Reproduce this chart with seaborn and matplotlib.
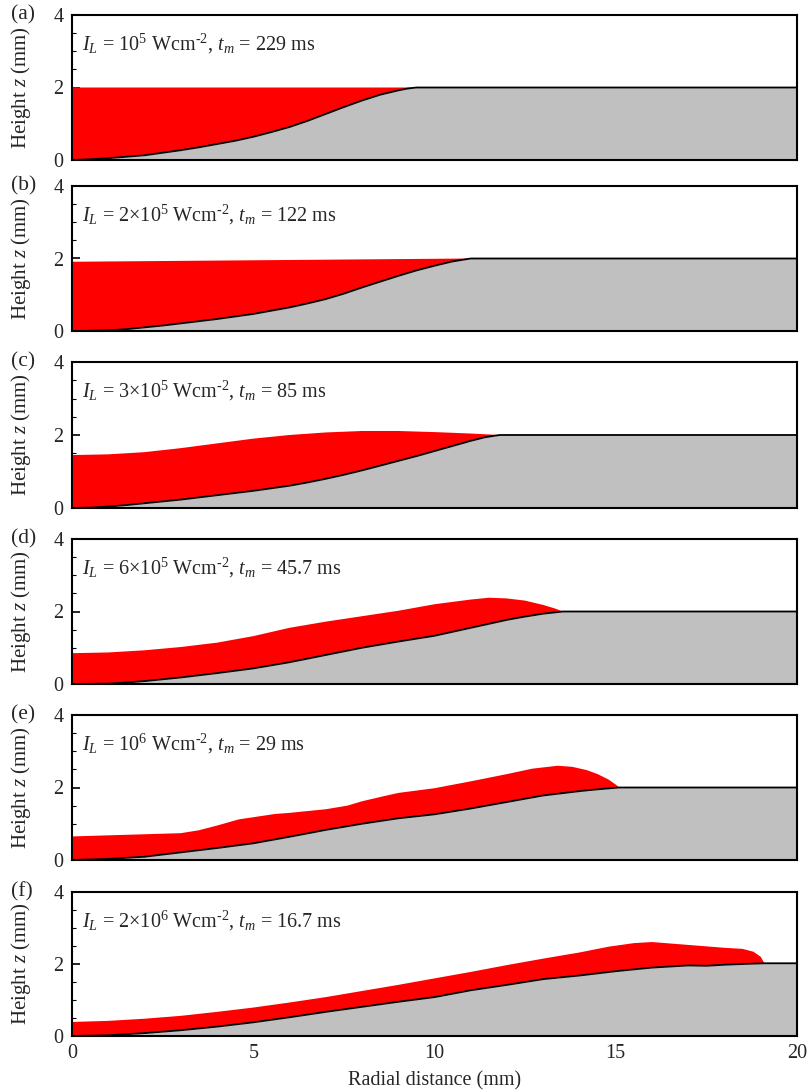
import numpy as np
import matplotlib
matplotlib.use("Agg")
import matplotlib.pyplot as plt
import seaborn as sns
from matplotlib.ticker import MultipleLocator

sns.set_theme(style="ticks")
plt.rcParams['font.family'] = ['Liberation Serif', 'DejaVu Serif']
plt.rcParams['mathtext.fontset'] = 'custom'
plt.rcParams['mathtext.rm'] = 'Liberation Serif'
plt.rcParams['mathtext.it'] = 'Liberation Serif:italic'
plt.rcParams['mathtext.bf'] = 'Liberation Serif:bold'

# ---------------- data ----------------
panel_labels = ["(a)", "(b)", "(c)", "(d)", "(e)", "(f)"]
annotations = [
    r"$I_L$ = 10$^5$ Wcm$^{\text{-}2}$, $t_m$ = 229 ms",
    r"$I_L$ = 2×10$^5$ Wcm$^{\text{-}2}$, $t_m$ = 122 ms",
    r"$I_L$ = 3×10$^5$ Wcm$^{\text{-}2}$, $t_m$ = 85 ms",
    r"$I_L$ = 6×10$^5$ Wcm$^{\text{-}2}$, $t_m$ = 45.7 ms",
    r"$I_L$ = 10$^6$ Wcm$^{\text{-}2}$, $t_m$ = 29 ms",
    r"$I_L$ = 2×10$^6$ Wcm$^{\text{-}2}$, $t_m$ = 16.7 ms",
]

# substrate (solid) profiles
sub_a_x = [0, 0.5, 1, 1.5, 2, 2.5, 3, 3.5, 4, 4.5, 5, 5.5, 6, 6.5, 7, 7.5, 8, 8.5, 9, 9.25, 9.5, 20]
sub_a_y = [0, 0.02, 0.05, 0.09, 0.13, 0.20, 0.27, 0.35, 0.44, 0.53, 0.64, 0.77, 0.91, 1.08, 1.27, 1.46, 1.64, 1.80, 1.92, 1.97, 2.0, 2.0]
sub_b_x = [0, 0.5, 1, 1.5, 2, 2.5, 3, 3.5, 4, 4.5, 5, 5.5, 6, 6.5, 7, 7.5, 8, 8.5, 9, 9.5, 10, 10.5, 11, 20]
sub_b_y = [0, 0.005, 0.02, 0.05, 0.10, 0.15, 0.21, 0.27, 0.33, 0.40, 0.47, 0.56, 0.65, 0.76, 0.88, 1.03, 1.20, 1.36, 1.52, 1.67, 1.80, 1.92, 2.0, 2.0]
sub_c_x = [0, 0.5, 1, 1.5, 2, 2.5, 3, 3.5, 4, 4.5, 5, 5.5, 6, 6.5, 7, 7.5, 8, 8.5, 9, 9.5, 10, 10.5, 11, 11.4, 11.8, 20]
sub_c_y = [0, 0.01, 0.04, 0.08, 0.13, 0.18, 0.23, 0.29, 0.35, 0.41, 0.47, 0.54, 0.61, 0.70, 0.80, 0.91, 1.03, 1.16, 1.29, 1.42, 1.56, 1.70, 1.84, 1.94, 2.0, 2.0]
sub_d_x = [0, 1, 1.5, 2, 3, 4, 5, 6, 7, 8, 9, 10, 11, 12, 12.5, 13, 13.55, 20]
sub_d_y = [0, 0.01, 0.04, 0.08, 0.18, 0.30, 0.43, 0.60, 0.80, 1.00, 1.17, 1.33, 1.55, 1.77, 1.86, 1.94, 2.0, 2.0]
sub_e_x = [0, 1, 2, 3, 4, 5, 6, 7, 8, 9, 10, 11, 12, 13, 14, 14.5, 15.1, 20]
sub_e_y = [0, 0.03, 0.09, 0.21, 0.33, 0.46, 0.64, 0.83, 1.00, 1.15, 1.26, 1.42, 1.60, 1.78, 1.90, 1.95, 2.0, 2.0]
sub_f_x = [0, 1, 2, 3, 4, 5, 6, 7, 8, 9, 10, 11, 12, 13, 14, 15, 16, 16.5, 17, 17.5, 18, 18.5, 19.1, 20]
sub_f_y = [0, 0.02, 0.08, 0.16, 0.26, 0.38, 0.52, 0.67, 0.81, 0.95, 1.08, 1.27, 1.42, 1.58, 1.68, 1.80, 1.90, 1.93, 1.96, 1.95, 1.98, 2.0, 2.02, 2.02]

# melt (liquid) top surfaces
top_a_x = [0, 9.5]
top_a_y = [2.0, 2.0]
top_b_x = [0, 11]
top_b_y = [1.91, 2.0]
top_c_x = [0, 1, 2, 3, 4, 5, 6, 7, 8, 9, 10, 11, 11.8]
top_c_y = [1.45, 1.47, 1.53, 1.64, 1.77, 1.90, 2.00, 2.07, 2.11, 2.11, 2.08, 2.04, 2.0]
top_d_x = [0, 1, 2, 3, 4, 5, 6, 7, 8, 9, 10, 11, 11.5, 12, 12.5, 13, 13.3, 13.55]
top_d_y = [0.85, 0.87, 0.93, 1.02, 1.14, 1.32, 1.55, 1.72, 1.87, 2.02, 2.20, 2.33, 2.38, 2.36, 2.30, 2.18, 2.09, 2.0]
top_e_x = [0, 1, 2, 3, 3.5, 4, 4.6, 5, 5.6, 6, 7, 7.6, 8, 8.6, 9, 10, 11, 12, 12.7, 13.4, 13.8, 14.2, 14.5, 14.8, 15.0, 15.1]
top_e_y = [0.65, 0.68, 0.71, 0.74, 0.82, 0.95, 1.12, 1.18, 1.27, 1.30, 1.40, 1.50, 1.62, 1.76, 1.85, 1.98, 2.17, 2.37, 2.52, 2.60, 2.57, 2.48, 2.37, 2.22, 2.08, 2.0]
top_f_x = [0, 1, 2, 3, 4, 5, 6, 7, 8, 9, 10, 11, 12, 13, 14, 14.8, 15.5, 16, 16.5, 17, 17.5, 18, 18.5, 18.8, 19.0, 19.1]
top_f_y = [0.39, 0.42, 0.48, 0.56, 0.67, 0.79, 0.93, 1.08, 1.25, 1.42, 1.60, 1.78, 1.97, 2.15, 2.32, 2.48, 2.58, 2.61, 2.57, 2.53, 2.49, 2.45, 2.42, 2.34, 2.20, 2.02]

x_ticks = [0, 5, 10, 15, 20]
y_ticks = [0, 2, 4]

subs = [(sub_a_x, sub_a_y), (sub_b_x, sub_b_y), (sub_c_x, sub_c_y),
        (sub_d_x, sub_d_y), (sub_e_x, sub_e_y), (sub_f_x, sub_f_y)]
tops = [(top_a_x, top_a_y), (top_b_x, top_b_y), (top_c_x, top_c_y),
        (top_d_x, top_d_y), (top_e_x, top_e_y), (top_f_x, top_f_y)]

# ---------------- layout ----------------
W, H = 811, 1091
fig = plt.figure(figsize=(W / 100, H / 100), dpi=100)
panel_px = [(15, 160), (186, 331), (362, 508), (539, 684), (715, 860), (892, 1036)]
left_px, right_px = 72, 797

FS = 14.5
for i, (ptop, pbot) in enumerate(panel_px):
    ax = fig.add_axes([left_px / W, 1 - pbot / H, (right_px - left_px) / W, (pbot - ptop) / H])
    sx, sy = np.array(subs[i][0], float), np.array(subs[i][1], float)
    tx, ty = np.array(tops[i][0], float), np.array(tops[i][1], float)
    edge = tx[-1]
    # solid substrate
    ax.fill_between(sx, sy, 0, color="#c0c0c0", lw=0, zorder=1)
    # liquid pool polygon: top surface then substrate back to origin
    m = sx <= edge + 1e-9
    px = np.r_[tx, sx[m][::-1]]
    py = np.r_[ty, sy[m][::-1]]
    ax.fill(px, py, color="#ff0000", lw=0, zorder=2)
    sns.lineplot(x=sx, y=sy, color="black", lw=1.3, sort=False, estimator=None, ax=ax, zorder=3)

    ax.set_xlim(0, 20)
    ax.set_ylim(0, 4)
    ax.set_xticks(x_ticks)
    ax.set_yticks(y_ticks)
    ax.xaxis.set_minor_locator(MultipleLocator(1))
    ax.yaxis.set_minor_locator(MultipleLocator(0.5))
    ax.tick_params(which="both", direction="in", top=False, right=False, color="black")
    ax.tick_params(which="major", length=6, width=1.2, labelsize=FS, pad=6)
    ax.tick_params(which="minor", length=3, width=0.8)
    for s in ax.spines.values():
        s.set_linewidth(1.5)
        s.set_color("black")
    if i < 5:
        ax.set_xticklabels([])
        ax.set_xlabel("")
    else:
        ax.set_xlabel("Radial distance (mm)", fontsize=FS, labelpad=6)
    ax.set_ylabel(r"Height $z$ (mm)", fontsize=15)
    ax.yaxis.set_label_coords(-0.054, 0.5)
    ax.text(0.014, 0.8, annotations[i], transform=ax.transAxes, fontsize=FS,
            ha="left", va="center", zorder=5)
    ax.text(-0.084, 1.0, panel_labels[i], transform=ax.transAxes, fontsize=15.5,
            ha="left", va="center")

fig.savefig("out.png", dpi=100)
